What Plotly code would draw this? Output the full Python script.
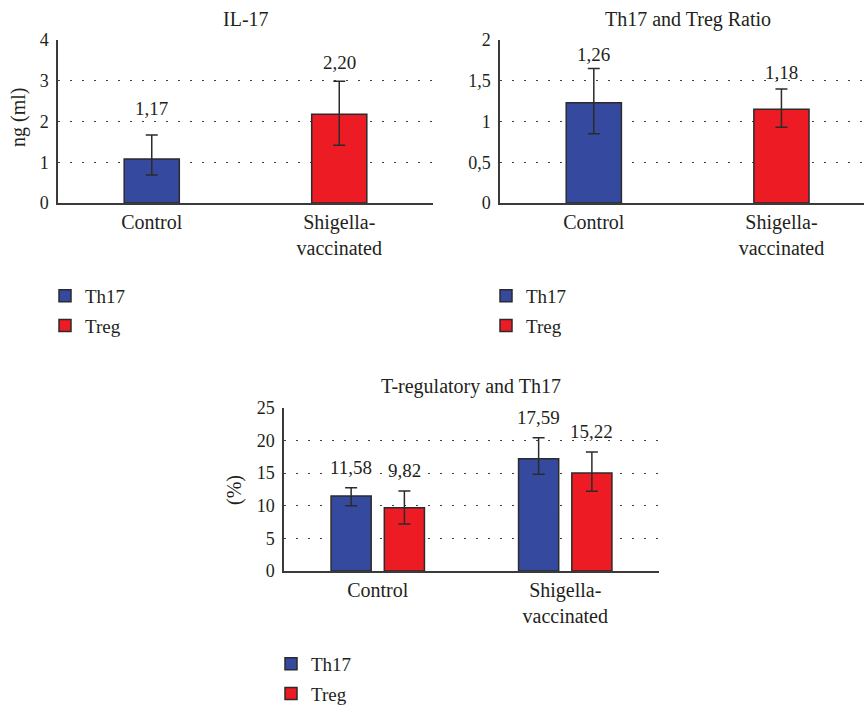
import plotly.graph_objects as go

# ---------------- data ----------------
categories = ["Control", "Shigella-<br>vaccinated"]

# Panel 1: IL-17 (ng/ml)
il17_values = [1.08, 2.18]
il17_err_hi = [1.67, 2.99]
il17_err_lo = [0.69, 1.42]
il17_labels = ["1,17", "2,20"]

# Panel 2: Th17 and Treg ratio
ratio_values = [1.23, 1.15]
ratio_err_hi = [1.65, 1.40]
ratio_err_lo = [0.85, 0.93]
ratio_labels = ["1,26", "1,18"]

# Panel 3: T-regulatory and Th17 (%)
th17_values = [11.5, 17.2]
th17_err_hi = [12.75, 20.4]
th17_err_lo = [10.0, 14.8]
th17_labels = ["11,58", "17,59"]

treg_values = [9.7, 15.0]
treg_err_hi = [12.25, 18.2]
treg_err_lo = [7.2, 12.2]
treg_labels = ["9,82", "15,22"]

series_names = ["Th17", "Treg"]

# ---------------- style ----------------
BLUE = "#354a9e"
RED = "#ed1c24"
EDGE = "#2b2b2b"
TEXT = "#231f20"
FONT = "Liberation Serif"
W, H = 864, 705


def px_x(p):
    return p / W


def px_y(p):
    return 1 - p / H


def err(vals, hi, lo):
    return dict(type="data", symmetric=False,
                array=[h - v for h, v in zip(hi, vals)],
                arrayminus=[v - l for v, l in zip(vals, lo)],
                color=EDGE, thickness=1.5, width=6)


fig = go.Figure()

single_w = 0.294
pair_w = 0.214
pair_off = 0.142

# Panel 1
for i, (name, col) in enumerate(zip(series_names, [BLUE, RED])):
    fig.add_trace(go.Bar(
        x=[categories[i]], y=[il17_values[i]], name=name,
        marker=dict(color=col, line=dict(color=EDGE, width=1.5)),
        width=single_w, offset=-single_w / 2,
        error_y=err([il17_values[i]], [il17_err_hi[i]], [il17_err_lo[i]]),
        xaxis="x", yaxis="y", legend="legend", legendgroup="g%d" % i))

# Panel 2
for i, (name, col) in enumerate(zip(series_names, [BLUE, RED])):
    fig.add_trace(go.Bar(
        x=[categories[i]], y=[ratio_values[i]], name=name,
        marker=dict(color=col, line=dict(color=EDGE, width=1.5)),
        width=single_w, offset=-single_w / 2,
        error_y=err([ratio_values[i]], [ratio_err_hi[i]], [ratio_err_lo[i]]),
        xaxis="x2", yaxis="y2", legend="legend2", legendgroup="h%d" % i))

# Panel 3
fig.add_trace(go.Bar(
    x=categories, y=th17_values, name=series_names[0],
    marker=dict(color=BLUE, line=dict(color=EDGE, width=1.5)),
    width=pair_w, offset=-pair_off - pair_w / 2,
    error_y=err(th17_values, th17_err_hi, th17_err_lo),
    xaxis="x3", yaxis="y3", legend="legend3", legendgroup="k0"))
fig.add_trace(go.Bar(
    x=categories, y=treg_values, name=series_names[1],
    marker=dict(color=RED, line=dict(color=EDGE, width=1.5)),
    width=pair_w, offset=pair_off - pair_w / 2,
    error_y=err(treg_values, treg_err_hi, treg_err_lo),
    xaxis="x3", yaxis="y3", legend="legend3", legendgroup="k1"))

# value labels
ann = []
lab_font = dict(family=FONT, size=19, color=TEXT)
p1_gap = [14, 6]
for i in range(2):
    ann.append(dict(x=i, y=il17_err_hi[i], xref="x", yref="y", text=il17_labels[i],
                    showarrow=False, yanchor="bottom", yshift=p1_gap[i], font=lab_font))
p2_gap = [2, 4]
for i in range(2):
    ann.append(dict(x=i, y=ratio_err_hi[i], xref="x2", yref="y2", text=ratio_labels[i],
                    showarrow=False, yanchor="bottom", yshift=p2_gap[i], font=lab_font))
for i in range(2):
    ann.append(dict(x=i - pair_off, y=th17_err_hi[i], xref="x3", yref="y3", text=th17_labels[i],
                    showarrow=False, yanchor="bottom", yshift=8, font=lab_font))
    ann.append(dict(x=i + pair_off, y=treg_err_hi[i], xref="x3", yref="y3", text=treg_labels[i],
                    showarrow=False, yanchor="bottom", yshift=8, font=lab_font))

# titles
title_font = dict(family=FONT, size=20, color=TEXT)
ann.append(dict(x=px_x(245.5), y=px_y(19), xref="paper", yref="paper", text="IL-17",
                showarrow=False, font=title_font, xanchor="center", yanchor="middle"))
ann.append(dict(x=px_x(688), y=px_y(19), xref="paper", yref="paper", text="Th17 and Treg Ratio",
                showarrow=False, font=title_font, xanchor="center", yanchor="middle"))
ann.append(dict(x=px_x(471), y=px_y(386), xref="paper", yref="paper", text="T-regulatory and Th17",
                showarrow=False, font=title_font, xanchor="center", yanchor="middle"))
# y axis titles
ann.append(dict(x=px_x(18), y=px_y(118), xref="paper", yref="paper", text="ng (ml)",
                showarrow=False, font=title_font, textangle=-90, xanchor="center", yanchor="middle"))
ann.append(dict(x=px_x(234), y=px_y(490), xref="paper", yref="paper", text="(%)",
                showarrow=False, font=title_font, textangle=-90, xanchor="center", yanchor="middle"))

tick_font = dict(family=FONT, size=18, color=TEXT)
xcat_font = dict(family=FONT, size=20, color=TEXT)

common_x = dict(type="category", showline=True, linecolor="#3a3a3a", linewidth=1.5,
                showgrid=False, ticks="", tickfont=xcat_font, ticklabelstandoff=0,
                fixedrange=True)
common_y = dict(showline=True, linecolor="#3a3a3a", linewidth=1.5, showgrid=True,
                gridcolor="#444444", gridwidth=1.3, griddash="1.5px,10.5px",
                zeroline=False, ticks="", tickfont=tick_font, ticklabelstandoff=4)

fig.update_layout(
    width=W, height=H, margin=dict(l=0, r=0, t=0, b=0, autoexpand=False),
    paper_bgcolor="white", plot_bgcolor="white",
    separators=",.", barmode="overlay", showlegend=True,
    font=dict(family=FONT, color=TEXT),
    xaxis=dict(common_x, domain=[px_x(58), px_x(433)], range=[-0.5, 1.5], anchor="y"),
    yaxis=dict(common_y, domain=[px_y(203), px_y(40)], range=[0, 4], dtick=1, anchor="x"),
    xaxis2=dict(common_x, domain=[px_x(500), 1.0], range=[-0.5, 1.44], anchor="y2"),
    yaxis2=dict(common_y, domain=[px_y(203), px_y(40)], range=[0, 2], dtick=0.5, anchor="x2"),
    xaxis3=dict(common_x, domain=[px_x(284), px_x(659)], range=[-0.5, 1.5], anchor="y3"),
    yaxis3=dict(common_y, domain=[px_y(571), px_y(407.7)], range=[0, 25], dtick=5, anchor="x3"),
    annotations=ann,
)

leg_common = dict(xanchor="left", yanchor="top", bgcolor="rgba(0,0,0,0)",
                  font=dict(family=FONT, size=19, color=TEXT), tracegroupgap=2,
                  orientation="v", xref="paper", yref="paper")
fig.update_layout(
    legend=dict(leg_common, x=px_x(45), y=px_y(277)),
    legend2=dict(leg_common, x=px_x(486), y=px_y(277)),
    legend3=dict(leg_common, x=px_x(271), y=px_y(645)),
)

fig.write_html("out.html", config={"displayModeBar": False},
               post_script="document.body.style.margin='0px';document.body.style.padding='0px';")
